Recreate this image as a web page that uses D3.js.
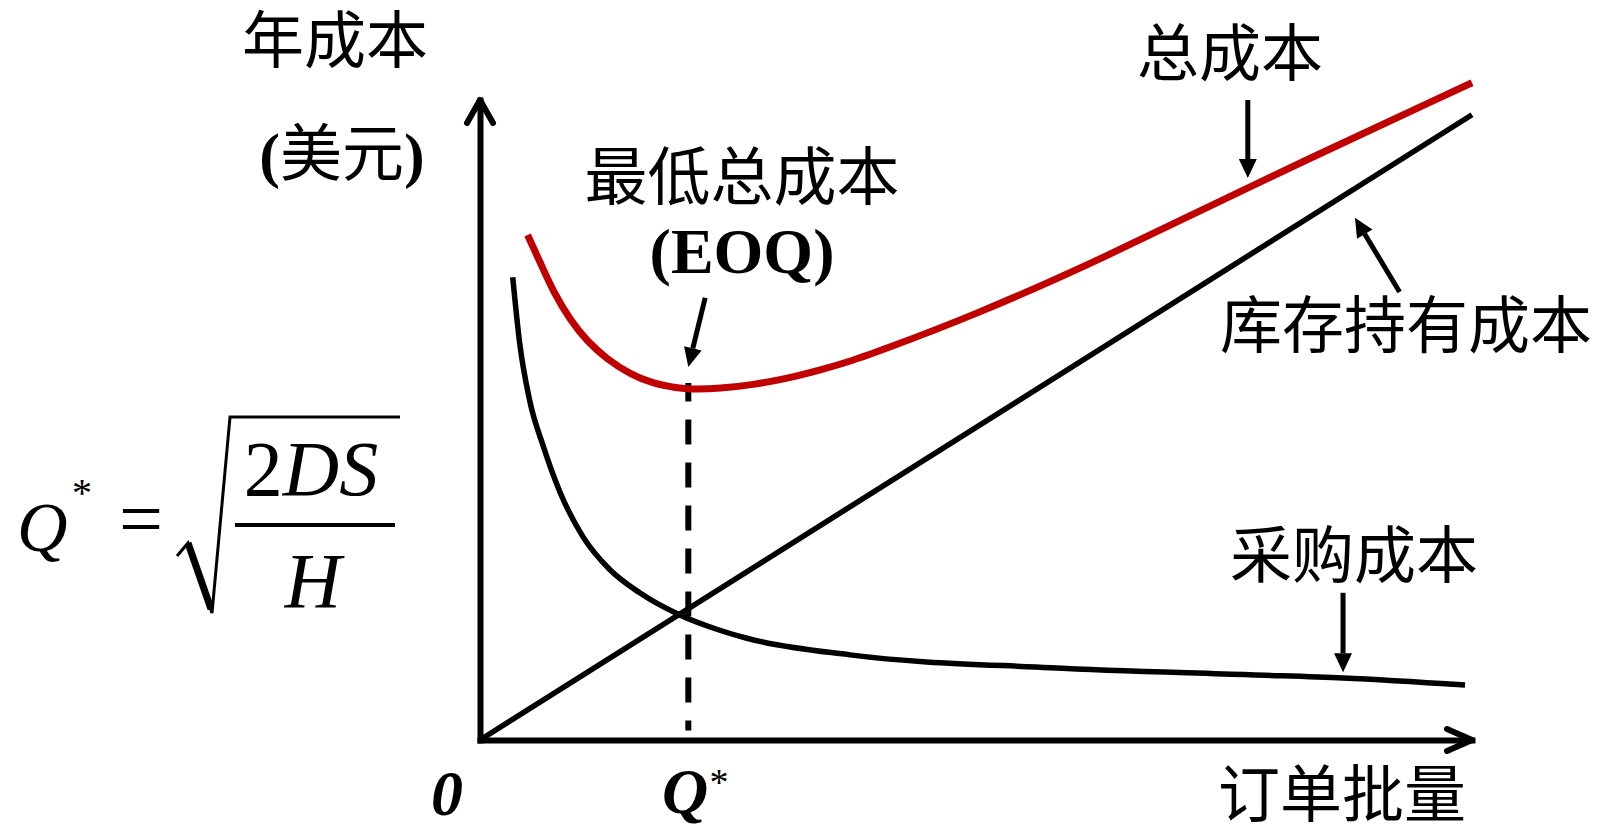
<!DOCTYPE html>
<html>
<head>
<meta charset="utf-8">
<script src="https://cdn.jsdelivr.net/npm/d3@7"></script>
<style>
  body { margin: 0; background: #fff; }
  svg { display: block; }
</style>
</head>
<body>
<script>
// order quantity (x) vs annual cost (y) in 0-100 units
const totalQ    = [4.8, 6.1, 7.4, 9.1, 10.8, 12.8, 15.1, 17.4, 19.9, 21.2, 24.2, 27.5, 31.0, 34.3, 37.6, 40.3, 49.4, 62.5, 77.4, 100];
const totalCost = [78.9, 74.5, 70.0, 65.6, 62.3, 59.5, 57.2, 55.7, 55.0, 54.8, 54.9, 55.5, 56.5, 57.8, 59.3, 60.8, 66.1, 75.0, 86.4, 102.7];
const orderQ    = [3.3, 4.0, 5.0, 6.4, 8.1, 10.4, 13.1, 16.1, 20.2, 23.5, 26.9, 37.3, 57.5, 77.6, 87.0, 99.3];
const orderCost = [72.3, 62.0, 53.1, 45.8, 38.6, 31.7, 26.6, 23.0, 19.5, 17.5, 15.9, 13.3, 11.3, 10.2, 9.7, 8.6];
const holdQ     = [0, 100];
const holdCost  = [0, 97.7];
const eoqQ = 21;
const eoqRange = [1.5, 55.8];

const seriesNames = ['总成本', '库存持有成本', '采购成本'];
const minLabel = ['最低总成本', '(EOQ)'];
const yTitle = ['年成本', '美元'];
const xTitle = '订单批量';

// annotation arrows in data units: [q1, c1, q2, c2]
const arrows = [
  [77.4, 100, 77.4, 87.8],   // total
  [92.7, 70.0, 88.2, 81.6],  // holding
  [87.0, 23.0, 87.0, 10.6],  // ordering
  [22.7, 69.1, 21.0, 58.3]   // EOQ
];

const W = 1605, H = 829;
const CJK = '"Noto Sans CJK SC", sans-serif';
const SERIF = '"Liberation Serif", "Times New Roman", serif';

const svg = d3.select('body').append('svg')
  .attr('width', W)
  .attr('height', H);

const x = d3.scaleLinear().domain([0, 100]).range([480, 1472]);
const y = d3.scaleLinear().domain([0, 100]).range([740, 100]);

// axes (no ticks, only the lines)
svg.append('g')
  .attr('transform', `translate(0,${y(0)})`)
  .call(d3.axisBottom(x).tickValues([]).tickSizeOuter(0));
svg.append('g')
  .attr('transform', `translate(${x(0)},0)`)
  .call(d3.axisLeft(y).tickValues([]).tickSizeOuter(0));
svg.selectAll('.domain')
  .attr('stroke', '#000')
  .attr('stroke-width', 6)
  .attr('stroke-linecap', 'square');

// open chevrons at the axis ends
svg.append('path')
  .attr('d', `M${x(0) - 13},${y(100) + 23}L${x(0)},${y(100)}L${x(0) + 13},${y(100) + 23}`)
  .attr('fill', 'none').attr('stroke', '#000').attr('stroke-width', 6)
  .attr('stroke-linejoin', 'round').attr('stroke-linecap', 'round');
svg.append('path')
  .attr('d', `M${x(100) - 25},${y(0) - 11}L${x(100)},${y(0)}L${x(100) - 25},${y(0) + 11}`)
  .attr('fill', 'none').attr('stroke', '#000').attr('stroke-width', 6)
  .attr('stroke-linejoin', 'round').attr('stroke-linecap', 'round');

const basis = d3.line()
  .x(d => x(d[0]))
  .y(d => y(d[1]))
  .curve(d3.curveBasis);
const monotone = d3.line()
  .x(d => x(d[0]))
  .y(d => y(d[1]))
  .curve(d3.curveMonotoneX);

svg.append('path')
  .datum(holdQ.map((q, i) => [q, holdCost[i]]))
  .attr('d', d3.line().x(d => x(d[0])).y(d => y(d[1])))
  .attr('fill', 'none').attr('stroke', '#000').attr('stroke-width', 5.5);

svg.append('path')
  .datum(orderQ.map((q, i) => [q, orderCost[i]]))
  .attr('d', monotone)
  .attr('fill', 'none').attr('stroke', '#000').attr('stroke-width', 5.5);

// EOQ dashed drop line
svg.append('line')
  .attr('x1', x(eoqQ)).attr('x2', x(eoqQ))
  .attr('y1', y(eoqRange[0])).attr('y2', y(eoqRange[1]))
  .attr('stroke', '#000').attr('stroke-width', 6)
  .attr('stroke-dasharray', '25,18').attr('stroke-dashoffset', 15);

svg.append('path')
  .datum(totalQ.map((q, i) => [q, totalCost[i]]))
  .attr('d', basis)
  .attr('fill', 'none').attr('stroke', '#c00000').attr('stroke-width', 7);

// annotation arrows
arrows.forEach(a => {
  const x1 = x(a[0]), y1 = y(a[1]), x2 = x(a[2]), y2 = y(a[3]);
  const ang = Math.atan2(y2 - y1, x2 - x1);
  const hl = 19, hw = 9;
  const bx = x2 - hl * Math.cos(ang), by = y2 - hl * Math.sin(ang);
  svg.append('line')
    .attr('x1', x1).attr('y1', y1).attr('x2', bx).attr('y2', by)
    .attr('stroke', '#000').attr('stroke-width', 5);
  svg.append('path')
    .attr('d', `M${x2},${y2}L${bx - hw * Math.sin(ang)},${by + hw * Math.cos(ang)}L${bx + hw * Math.sin(ang)},${by - hw * Math.cos(ang)}Z`)
    .attr('fill', '#000');
});

// labels
function label(t, px, py, size, family, anchor) {
  return svg.append('text')
    .attr('x', px).attr('y', py)
    .attr('font-size', size)
    .attr('font-family', family)
    .attr('text-anchor', anchor || 'middle')
    .attr('fill', '#000')
    .text(t);
}

label(yTitle[0], 335, 63, 62, CJK);
const yt = svg.append('text')
  .attr('x', 342).attr('y', 176)
  .attr('font-size', 62).attr('text-anchor', 'middle').attr('fill', '#000');
yt.append('tspan').attr('font-family', SERIF).attr('font-weight', 'bold').text('(');
yt.append('tspan').attr('font-family', CJK).text(yTitle[1]);
yt.append('tspan').attr('font-family', SERIF).attr('font-weight', 'bold').text(')');

label(seriesNames[0], 1230, 76, 62, CJK);
label(seriesNames[1], 1406, 348, 62, CJK);
label(seriesNames[2], 1354, 578, 62, CJK);
label(xTitle, 1342, 817, 62, CJK);
label(minLabel[0], 742, 199, 63, CJK);
label(minLabel[1], 742, 273, 64, SERIF).attr('font-weight', 'bold');

label('0', 447, 815, 64, SERIF).attr('font-weight', 'bold').attr('font-style', 'italic');
label('Q', 685, 813, 64, SERIF).attr('font-weight', 'bold').attr('font-style', 'italic');
label('*', 719, 795, 38, SERIF);

// EOQ formula
label('Q', 17, 551, 70, SERIF, 'start').attr('font-style', 'italic');
label('*', 82, 506, 40, SERIF);
label('=', 141, 545, 78, SERIF);
const num = svg.append('text')
  .attr('x', 311).attr('y', 495)
  .attr('font-size', 78).attr('font-family', SERIF)
  .attr('text-anchor', 'middle').attr('fill', '#000');
num.append('tspan').text('2');
num.append('tspan').attr('font-style', 'italic').text('DS');
label('H', 313, 607, 78, SERIF).attr('font-style', 'italic');

svg.append('path')
  .attr('d', 'M177,556L188,543L212,613L230,417L400,417')
  .attr('fill', 'none').attr('stroke', '#000').attr('stroke-width', 3)
  .attr('stroke-linejoin', 'miter');
svg.append('path')
  .attr('d', 'M188,543L211,609')
  .attr('fill', 'none').attr('stroke', '#000').attr('stroke-width', 7);
svg.append('line')
  .attr('x1', 235).attr('x2', 395).attr('y1', 525).attr('y2', 525)
  .attr('stroke', '#000').attr('stroke-width', 4);
</script>
</body>
</html>
